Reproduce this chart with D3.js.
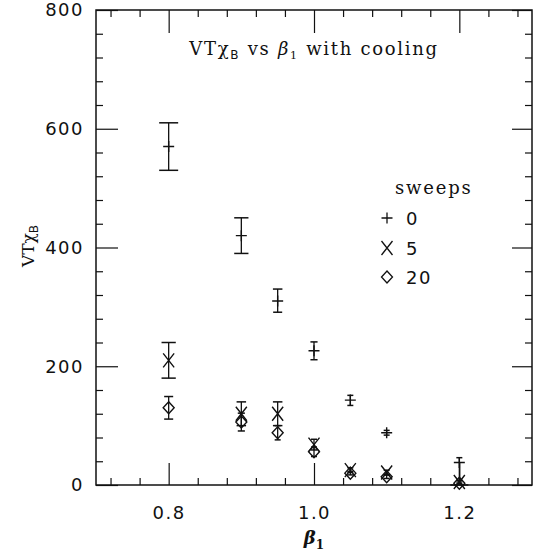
<!DOCTYPE html>
<html><head><meta charset="utf-8">
<script src="https://cdn.jsdelivr.net/npm/d3@7"></script>
<style>
html,body{margin:0;padding:0;background:#fff;}
svg{display:block;}
</style></head>
<body>
<script>
// ---- data ----
const beta = [0.8, 0.9, 0.95, 1.0, 1.05, 1.1, 1.2];
const sweeps0 = [570, 420, 310, 226, 143, 88, 38];
const sweeps0ErrLo = [40, 30, 19, 15, 9, 4, 38];
const sweeps0ErrHi = [40, 30, 20, 15, 8, 4, 8];
const sweeps5 = [210, 120, 120, 68, 25, 21, 5];
const sweeps5ErrLo = [30, 20, 20, 9, 4, 4, 3];
const sweeps5ErrHi = [30, 20, 20, 9, 4, 4, 3];
const sweeps20 = [130, 106, 88, 56, 20, 14, 3];
const sweeps20ErrLo = [19, 15, 12, 8, 3, 3, 2];
const sweeps20ErrHi = [19, 15, 12, 8, 3, 3, 2];
const legendLabels = ["0", "5", "20"];
const xMajorTicks = [0.8, 1.0, 1.2];
const xMinorTicks = [0.72, 0.76, 0.84, 0.88, 0.92, 0.96, 1.04, 1.08, 1.12, 1.16, 1.24, 1.28];
const yMajorTicks = [0, 200, 400, 600, 800];
const yMinorTicks = [40, 80, 120, 160, 240, 280, 320, 360, 440, 480, 520, 560, 640, 680, 720, 760];

(function () {
const W = 533, H = 556;
const mLeft = 96, mRight = 532, mTop = 10, mBottom = 485;

const svg = d3.select("body").append("svg").attr("width", W).attr("height", H);
const x = d3.scaleLinear().domain([0.7, 1.3]).range([mLeft, mRight]);
const y = d3.scaleLinear().domain([0, 800]).range([mBottom, mTop]);

const ink = "#111";
const numFont = "'DejaVu Sans', sans-serif";
const serif = "'DejaVu Serif', serif";

function styleAxis(g) {
  g.select(".domain").remove();
  g.selectAll("line").attr("stroke", ink).attr("stroke-width", 1.2);
  g.selectAll("text").attr("fill", ink).style("font-family", numFont)
    .style("font-size", "18px").style("letter-spacing", "1.5px");
}
// bottom
svg.append("g").attr("transform", `translate(0,${mBottom})`)
  .call(d3.axisBottom(x).tickValues(xMajorTicks).tickSize(-22).tickPadding(21).tickFormat(d3.format(".1f"))).call(styleAxis);
svg.append("g").attr("transform", `translate(0,${mBottom})`)
  .call(d3.axisBottom(x).tickValues(xMinorTicks).tickSize(-7).tickFormat("")).call(styleAxis);
// top
svg.append("g").attr("transform", `translate(0,${mTop})`)
  .call(d3.axisTop(x).tickValues(xMajorTicks).tickSize(-23).tickFormat("")).call(styleAxis);
svg.append("g").attr("transform", `translate(0,${mTop})`)
  .call(d3.axisTop(x).tickValues(xMinorTicks).tickSize(-7).tickFormat("")).call(styleAxis);
// left
svg.append("g").attr("transform", `translate(${mLeft},0)`)
  .call(d3.axisLeft(y).tickValues(yMajorTicks).tickSize(-22).tickPadding(12).tickFormat(d3.format("d"))).call(styleAxis);
svg.append("g").attr("transform", `translate(${mLeft},0)`)
  .call(d3.axisLeft(y).tickValues(yMinorTicks).tickSize(-7).tickFormat("")).call(styleAxis);
// right
svg.append("g").attr("transform", `translate(${mRight},0)`)
  .call(d3.axisRight(y).tickValues(yMajorTicks).tickSize(-20).tickFormat("")).call(styleAxis);
svg.append("g").attr("transform", `translate(${mRight},0)`)
  .call(d3.axisRight(y).tickValues(yMinorTicks).tickSize(-7).tickFormat("")).call(styleAxis);

// frame
svg.append("rect").attr("x", mLeft).attr("y", mTop).attr("width", mRight - mLeft).attr("height", mBottom - mTop)
  .attr("fill", "none").attr("stroke", ink).attr("stroke-width", 1.5);

// markers
function plusPath(s) { return `M${-s},0H${s}M0,${-s}V${s}`; }
function timesPath(w, h) { return `M${-w},${-h}L${w},${h}M${-w},${h}L${w},${-h}`; }
function diamondPath(w, h) { return `M0,${-h}L${w},0L0,${h}L${-w},0Z`; }

const series = [
  { vals: sweeps0, lo: sweeps0ErrLo, hi: sweeps0ErrHi, marker: plusPath(5.5) },
  { vals: sweeps5, lo: sweeps5ErrLo, hi: sweeps5ErrHi, marker: timesPath(5.5, 7) },
  { vals: sweeps20, lo: sweeps20ErrLo, hi: sweeps20ErrHi, marker: diamondPath(5.5, 6) }
];

const plot = svg.append("g");
series.forEach(s => {
  const pts = beta.map((b, i) => ({ b, v: s.vals[i], lo: s.vals[i] - s.lo[i], hi: s.vals[i] + s.hi[i] }));
  const g = plot.append("g");
  pts.forEach(p => {
    const cx = x(p.b), yc = y(p.v), yl = y(Math.max(p.lo, 0)), yh = y(p.hi);
    g.append("line").attr("x1", cx).attr("x2", cx).attr("y1", yl).attr("y2", yh)
      .attr("stroke", ink).attr("stroke-width", 1.3);
    [[yl, yl - yc], [yh, yc - yh]].forEach(([yy, len]) => {
      const cw = Math.max(0.4 * len, 3);
      g.append("line").attr("x1", cx - cw).attr("x2", cx + cw)
        .attr("y1", yy).attr("y2", yy).attr("stroke", ink).attr("stroke-width", 1.5);
    });
  });
  g.selectAll("path.m").data(pts).join("path").attr("class", "m")
    .attr("transform", p => `translate(${x(p.b)},${y(p.v)})`)
    .attr("d", s.marker).attr("fill", "none")
    .attr("stroke", ink).attr("stroke-width", 1.4);
});

// title
const title = svg.append("text").attr("x", x(1.0)).attr("y", 55).attr("text-anchor", "middle")
  .attr("fill", ink).style("font-family", serif).style("font-size", "18px").style("letter-spacing", "1.7px");
title.append("tspan").text("VTχ");
title.append("tspan").text("B").style("font-family", numFont).style("font-size", "12px").attr("dy", 4);
title.append("tspan").text(" vs ").attr("dy", -4);
title.append("tspan").text("β").style("font-style", "italic");
title.append("tspan").text("1").style("font-size", "11px").attr("dy", 4);
title.append("tspan").text(" with cooling").attr("dy", -4);

// y label
const ylab = svg.append("text").attr("transform", `translate(34,246) rotate(-90)`).attr("text-anchor", "middle")
  .attr("fill", ink).style("font-family", serif).style("font-size", "17px");
ylab.append("tspan").text("VTχ");
ylab.append("tspan").text("B").style("font-family", numFont).style("font-size", "12px").attr("dy", 4);

// x label
const xlab = svg.append("text").attr("x", x(1.0)).attr("y", 544).attr("text-anchor", "middle")
  .attr("fill", ink).style("font-family", serif).style("font-size", "18px");
xlab.append("tspan").text("β").style("font-style", "italic").style("font-weight", "bold");
xlab.append("tspan").text("1").style("font-size", "12px").style("font-weight", "bold").attr("dy", 5);

// legend
const lg = svg.append("g");
lg.append("text").attr("x", 395).attr("y", 194).attr("fill", ink)
  .style("font-family", serif).style("font-size", "18px").style("letter-spacing", "1.8px").text("sweeps");
const legendRowY = [218, 248, 277];
series.forEach((s, i) => {
  lg.append("path").attr("transform", `translate(387,${legendRowY[i]})`).attr("d", s.marker)
    .attr("fill", "none").attr("stroke", ink).attr("stroke-width", 1.3);
  lg.append("text").attr("x", 406).attr("y", legendRowY[i] + 6.5).attr("fill", ink)
    .style("font-family", numFont).style("font-size", "18px").style("letter-spacing", "1.5px").text(legendLabels[i]);
});
})();
</script>
</body></html>
